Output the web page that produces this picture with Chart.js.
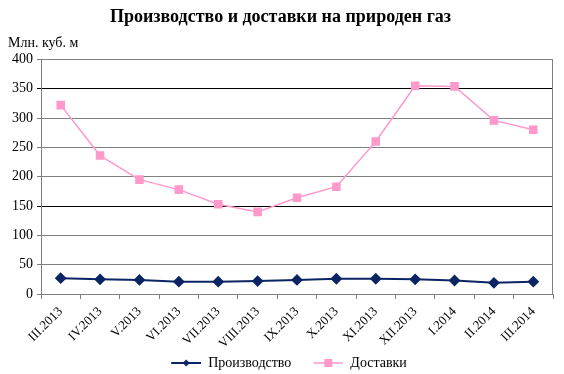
<!DOCTYPE html>
<html>
<head>
<meta charset="utf-8">
<script src="https://cdn.jsdelivr.net/npm/chart.js@4.4.1/dist/chart.umd.min.js"></script>
<style>
html,body{margin:0;padding:0;background:#fff;}
#wrap{width:564px;height:374px;}
</style>
</head>
<body>
<div id="wrap"><canvas id="c" width="564" height="374"></canvas></div>
<script>
const categories = ["III.2013","IV.2013","V.2013","VI.2013","VII.2013","VIII.2013","IX.2013","X.2013","XI.2013","XII.2013","I.2014","II.2014","III.2014"];
const production = [27, 25, 24, 21, 21, 22, 24, 26, 26, 25, 23, 19, 21];
const deliveries = [322, 236, 195, 178, 153, 140, 164, 183, 260, 355, 354, 296, 280];
const yTicks = [0, 50, 100, 150, 200, 250, 300, 350, 400];

const FONT = "'Liberation Serif', 'Times New Roman', serif";
const NAVY = '#0b2463';
const PINK = '#ff99cc';

function legendIcon(color, style, lw, r) {
  const lead = 17, w = 30;
  const cv = document.createElement('canvas');
  cv.width = lead + w; cv.height = 12;
  const ctx = cv.getContext('2d');
  ctx.strokeStyle = color; ctx.lineWidth = lw;
  ctx.beginPath(); ctx.moveTo(lead, 6); ctx.lineTo(lead + w, 6); ctx.stroke();
  ctx.fillStyle = color;
  const cx = lead + w / 2;
  if (style === 'diamond') {
    ctx.beginPath(); ctx.moveTo(cx, 6 - r); ctx.lineTo(cx + r, 6); ctx.lineTo(cx, 6 + r); ctx.lineTo(cx - r, 6); ctx.closePath(); ctx.fill();
  } else {
    ctx.fillRect(cx - r, 6 - r, 2 * r, 2 * r);
  }
  return cv;
}
const icons = [legendIcon(NAVY, 'diamond', 2, 3.5), legendIcon(PINK, 'square', 1.5, 4)];

const frame = {
  id: 'frame',
  beforeDatasetsDraw(chart) {
    const a = chart.chartArea, ctx = chart.ctx;
    ctx.save();
    ctx.strokeStyle = '#808080'; ctx.lineWidth = 1;
    ctx.beginPath();
    ctx.moveTo(Math.round(a.left) + 0.5, Math.round(a.top) + 0.5);
    ctx.lineTo(Math.round(a.right) - 0.5, Math.round(a.top) + 0.5);
    ctx.lineTo(Math.round(a.right) - 0.5, Math.round(a.bottom));
    ctx.stroke();
    ctx.restore();
  }
};

new Chart(document.getElementById('c'), {
  type: 'line',
  data: {
    labels: categories,
    datasets: [
      { label: 'Производство', data: production, borderColor: NAVY, backgroundColor: NAVY, borderWidth: 2,
        pointStyle: 'rectRot', pointRadius: 4.5, pointHoverRadius: 4.5, tension: 0 },
      { label: 'Доставки', data: deliveries, borderColor: PINK, backgroundColor: PINK, borderWidth: 1.5,
        pointStyle: 'rect', pointRadius: 5, pointHoverRadius: 5, tension: 0 }
    ]
  },
  options: {
    responsive: false,
    animation: false,
    devicePixelRatio: 1,
    layout: { padding: { left: 8, right: 11, top: 0, bottom: -6 } },
    plugins: {
      tooltip: { enabled: false },
      title: { display: true, text: 'Производство и доставки на природен газ', color: '#000',
        font: { family: FONT, size: 18, weight: 'bold' }, padding: { top: 7, bottom: 2 } },
      subtitle: { display: true, text: 'Млн. куб. м', align: 'start', color: '#000',
        font: { family: FONT, size: 14 }, padding: { top: 4, bottom: 8 } },
      legend: { position: 'bottom', labels: {
        font: { family: FONT, size: 14 }, color: '#000', usePointStyle: true, pointStyleWidth: 47, padding: 5,
        generateLabels(chart) {
          return chart.data.datasets.map((d, i) => ({ text: d.label, pointStyle: icons[i], fillStyle: d.borderColor,
            strokeStyle: d.borderColor, lineWidth: 0, datasetIndex: i, hidden: false, fontColor: '#000' }));
        } } }
    },
    scales: {
      x: {
        offset: true,
        afterFit(scale) { scale.height = 57; },
        grid: { display: true, drawOnChartArea: false, offset: true, tickLength: 5, color: '#808080' },
        border: { color: '#808080', width: 1 },
        ticks: { font: { family: FONT, size: 13 }, color: '#000', maxRotation: 45, minRotation: 45, autoSkip: false, padding: 5 }
      },
      y: {
        min: 0, max: 400,
        afterBuildTicks(scale) { scale.ticks = yTicks.map(v => ({ value: v })); },
        grid: { tickLength: 4, color: ctx => (ctx.tick && (ctx.tick.value === 150 || ctx.tick.value === 350)) ? '#000' : '#808080' },
        border: { color: '#808080', width: 1 },
        ticks: { font: { family: FONT, size: 14 }, color: '#000', padding: 4 }
      }
    }
  },
  plugins: [frame]
});
</script>
</body>
</html>
